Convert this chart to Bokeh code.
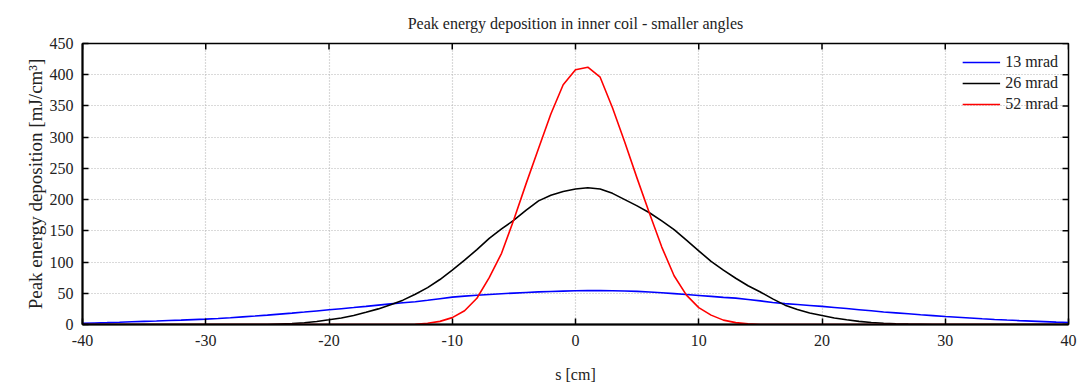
import math
from bokeh.plotting import figure
from bokeh.models import Legend, LegendItem, FixedTicker, ColumnDataSource
from bokeh.embed import file_html
from bokeh.resources import INLINE

# ---------------- data ----------------
s_cm = list(range(-40, 41))

mrad13 = [2.0, 2.5, 3.0, 3.6, 4.3, 5.0, 5.6, 6.3, 7.0, 7.8,
          8.6, 9.7, 10.9, 12.2, 13.5, 15.0, 16.6, 18.2, 19.9, 21.7,
          23.5, 25.3, 27.1, 29.0, 31.0, 33.0, 34.8, 36.5, 38.8, 41.3,
          43.8, 45.4, 46.8, 48.0, 49.2, 50.3, 51.3, 52.2, 52.9, 53.5,
          54.0, 54.2, 54.3, 54.0, 53.6, 53.0, 52.0, 50.8, 49.5, 48.0,
          46.5, 45.0, 43.5, 42.2, 40.0, 37.8, 35.3, 33.5, 32.0, 30.5,
          29.0, 27.3, 25.5, 23.7, 21.9, 20.1, 18.6, 17.1, 15.6, 14.2,
          12.8, 11.6, 10.4, 9.2, 8.1, 7.1, 6.2, 5.4, 4.6, 3.8, 3.2]

mrad26 = [0, 0, 0, 0, 0, 0, 0, 0, 0, 0,
          0, 0, 0, 0, 0, 0, 0.8, 1.5, 2.8, 4.8,
          7.5, 10.5, 14.5, 19.5, 25.0, 31.5, 39.0, 48.5, 59.0, 72.0,
          87.0, 103.0, 120.0, 138.0, 153.0, 167.0, 183.0, 198.0, 207.0, 213.0,
          217.0, 219.0, 217.0, 210.0, 200.0, 190.0, 179.0, 166.0, 152.0, 135.0,
          118.0, 101.0, 87.0, 74.0, 62.0, 52.0, 41.0, 31.0, 24.0, 18.5,
          14.5, 10.5, 7.5, 5.0, 3.2, 2.0, 1.2, 0.6, 0.3, 0,
          0, 0, 0, 0, 0, 0, 0, 0, 0, 0, 0]

mrad52 = [0, 0, 0, 0, 0, 0, 0, 0, 0, 0,
          0, 0, 0, 0, 0, 0, 0, 0, 0, 0,
          0, 0, 0, 0, 0, 0, 0, 0.5, 2.0, 5.0,
          11.0, 22.0, 42.0, 75.0, 114.0, 168.0, 226.0, 282.0, 337.0, 384.0,
          408.0, 412.0, 396.0, 347.0, 292.0, 234.0, 178.0, 124.0, 78.0, 47.0,
          27.0, 15.0, 7.0, 3.0, 1.0, 0, 0, 0, 0, 0,
          0, 0, 0, 0, 0, 0, 0, 0, 0, 0,
          0, 0, 0, 0, 0, 0, 0, 0, 0, 0, 0]

series_names = ["13 mrad", "26 mrad", "52 mrad"]
series_colors = ["#0000ff", "#000000", "#ff0000"]
x_ticks = [-40, -30, -20, -10, 0, 10, 20, 30, 40]
y_ticks = [0, 50, 100, 150, 200, 250, 300, 350, 400, 450]

title_text = "Peak energy deposition in inner coil - smaller angles"
x_label = "s [cm]"
y_label = "Peak energy deposition [mJ/cm\u00b3]"

X_MIN, X_MAX = -40, 40
Y_MIN, Y_MAX = 0, 450

# ---------------- figure ----------------
FONT = "Liberation Serif"
TXT = "#222222"

p = figure(width=1085, height=388, x_range=(X_MIN, X_MAX), y_range=(Y_MIN, Y_MAX),
           output_backend="svg", toolbar_location=None, title=title_text,
           min_border_left=82, min_border_right=17, min_border_top=43,
           min_border_bottom=64)

p.title.align = "center"
p.title.text_font = FONT
p.title.text_font_size = "16px"
p.title.text_font_style = "normal"
p.title.text_color = TXT
p.title.standoff = 24

p.outline_line_color = "black"
p.outline_line_width = 1.5
p.background_fill_color = "white"
p.border_fill_color = "white"

# grid
p.xgrid.ticker = FixedTicker(ticks=x_ticks)
p.ygrid.ticker = FixedTicker(ticks=y_ticks)
for g in (p.xgrid[0], p.ygrid[0]):
    g.grid_line_color = "#b4b4b4"
    g.grid_line_dash = "1 2"
    g.grid_line_width = 1.2

src = ColumnDataSource(dict(s=s_cm, a=mrad13, b=mrad26, c=mrad52))
renderers = []
for col, col_color in zip(["a", "b", "c"], series_colors):
    r = p.line("s", col, source=src, line_color=col_color, line_width=1.6)
    renderers.append(r)

# axes
for ax, ticks in ((p.xaxis[0], x_ticks), (p.yaxis[0], y_ticks)):
    ax.ticker = FixedTicker(ticks=ticks)
    ax.major_tick_in = 6
    ax.major_tick_out = 0
    ax.major_tick_line_color = "black"
    ax.major_tick_line_width = 1.5
    ax.minor_tick_line_color = None
    ax.axis_line_color = "black"
    ax.axis_line_width = 2
    ax.major_label_text_font = FONT
    ax.major_label_text_font_size = "16px"
    ax.major_label_text_color = TXT
    ax.axis_label_text_font = FONT
    ax.axis_label_text_font_style = "normal"
    ax.axis_label_text_color = TXT

p.xaxis[0].major_label_overrides = {t: str(t) for t in x_ticks}
p.xaxis[0].axis_label = x_label
p.xaxis[0].axis_label_text_font_size = "16px"
p.xaxis[0].major_label_standoff = 10
p.xaxis[0].axis_label_standoff = 17

p.yaxis[0].axis_label = y_label
p.yaxis[0].axis_label_text_font_size = "19px"
p.yaxis[0].major_label_standoff = 9
p.yaxis[0].axis_label_standoff = 1

# mirrored inward ticks on top and right borders (clipped to the frame)
p.scatter(x=x_ticks, y=[Y_MAX] * len(x_ticks), marker="dash", size=12,
          angle=math.pi / 2, line_color="black", line_width=1.5)
p.scatter(x=[X_MAX] * len(y_ticks), y=y_ticks, marker="dash", size=12,
          line_color="black", line_width=1.5)

legend = Legend(items=[LegendItem(label=n, renderers=[r]) for n, r in zip(series_names, renderers)],
                location="top_right")
legend.label_text_font = FONT
legend.label_text_font_size = "16px"
legend.label_text_color = TXT
legend.border_line_color = None
legend.background_fill_alpha = 0
legend.glyph_width = 38
legend.label_height = 16
legend.glyph_height = 16
legend.spacing = 3
legend.padding = 4
legend.margin = 10
p.add_layout(legend)

open("out.html", "w").write(file_html(p, INLINE))
